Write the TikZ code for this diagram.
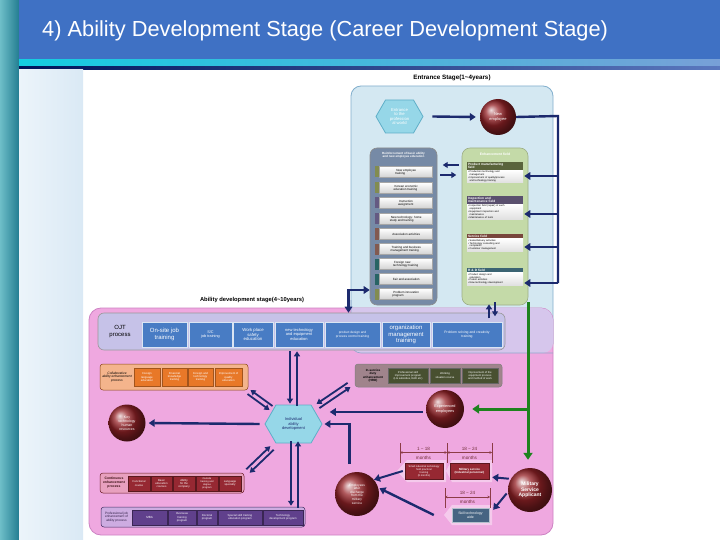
\documentclass[tikz,border=0pt]{standalone}
\usepackage{fontspec}
\setmainfont{Liberation Sans}
\usetikzlibrary{shapes.geometric,shapes.symbols,arrows.meta,calc}
\definecolor{titleblue}{RGB}{63,113,196}
\definecolor{navy}{RGB}{28,42,110}
\definecolor{pinkbg}{RGB}{239,168,224}
\definecolor{pinkbd}{RGB}{205,130,195}
\definecolor{lavov}{RGB}{214,198,236}
\definecolor{lblue}{RGB}{212,232,242}
\definecolor{lbluebd}{RGB}{130,175,205}
\definecolor{ojtpanel}{RGB}{198,194,232}
\definecolor{ojtblue}{RGB}{72,124,196}
\definecolor{gbpanel}{RGB}{118,138,166}
\definecolor{grpanel}{RGB}{196,218,168}
\definecolor{hexcyan}{RGB}{150,215,232}
\definecolor{hexbd}{RGB}{95,175,200}
\definecolor{sphred}{RGB}{150,35,40}
\definecolor{orgbox}{RGB}{232,120,40}
\definecolor{orgpanel}{RGB}{244,180,140}
\definecolor{olivebox}{RGB}{72,80,48}
\definecolor{mauvepanel}{RGB}{160,132,140}
\definecolor{redbox}{RGB}{150,40,50}
\definecolor{redpanel}{RGB}{232,160,190}
\definecolor{purbox}{RGB}{96,64,140}
\definecolor{purpanel}{RGB}{205,172,225}
\definecolor{slatebox}{RGB}{70,100,130}
\definecolor{grline}{RGB}{30,130,30}
\definecolor{dimred}{RGB}{140,60,70}
\definecolor{tabolive}{RGB}{130,140,80}
\definecolor{tabpurple}{RGB}{100,90,130}
\definecolor{tabbrown}{RGB}{130,90,80}
\definecolor{tabteal}{RGB}{40,100,100}
\definecolor{hdolive}{RGB}{90,100,60}
\definecolor{hdpurple}{RGB}{90,80,110}
\definecolor{hdbrown}{RGB}{120,70,60}
\definecolor{hdteal}{RGB}{60,100,115}
\newcommand\myfs[2]{\fontsize{#1}{#2}\selectfont}
\begin{document}
\begin{tikzpicture}[x=1pt,y=-1pt,
 navyln/.style={draw=navy, line width=2.4pt},
 navyarr/.style={draw=navy, line width=2.4pt, -{Triangle[length=6pt,width=7.5pt]}},
 pairarr/.style={draw=navy, line width=1.8pt, -{Triangle[length=5pt,width=6pt]}},
 grnarr/.style={draw=grline, line width=3pt, -{Triangle[length=7pt,width=9pt]}},
 sphere/.style={circle, shading=ball, ball color=sphred, text=white, align=center, inner sep=0pt},
 hexnode/.style={signal, signal to=east and west, signal pointer angle=120, fill=hexcyan, draw=hexbd, line width=0.8pt, align=center, inner sep=0pt},
 ojtbox/.style={rectangle, fill=ojtblue, draw=white!80!ojtblue, text=white, align=center, minimum height=25, inner sep=0.5pt},
 item/.style={rectangle, top color=white, bottom color=black!18, draw=black!35, align=left, minimum width=53, minimum height=11, inner sep=0.5pt, anchor=west, font=\myfs{3}{3.4}},
 hdr/.style={rectangle, text=white, align=left, minimum width=56, inner sep=0.8pt, anchor=north, font=\bfseries\myfs{3.2}{3.5}, text width=54},
 body/.style={rectangle, top color=white, bottom color=black!12, align=left, minimum width=56, inner sep=0.8pt, anchor=north, font=\myfs{2.5}{2.9}, text width=54},
 obox/.style={rectangle, fill=orgbox, draw=orgbox!70!black, text=white, align=center, minimum height=18, inner sep=0.3pt, font=\myfs{2.8}{3.2}},
 dbox/.style={rectangle, fill=olivebox, draw=black!60, text=white, align=center, minimum height=15, inner sep=0.3pt, font=\myfs{2.7}{3.1}},
 rbox/.style={rectangle, fill=redbox, draw=redbox!60!black, text=white, align=center, minimum height=15, inner sep=0.3pt, font=\myfs{2.8}{3.2}},
 pbox/.style={rectangle, fill=purbox, draw=purbox!60!black, text=white, align=center, minimum height=15, inner sep=0.3pt, font=\myfs{3}{3.4}},
 dimln/.style={draw=dimred, line width=0.6pt, {Stealth[length=2.5pt,width=2.5pt]}-{Stealth[length=2.5pt,width=2.5pt]}},
 dimtick/.style={draw=dimred, line width=0.6pt},
 dimtxt/.style={text=dimred!80!black, font=\myfs{4.6}{5}, inner sep=0pt}
]
\useasboundingbox (0,0) rectangle (720,540);
\fill[white] (0,0) rectangle (720,540);
% slide decoration
\shade[left color={rgb,255:red,110;green,190;blue,200}, right color={rgb,255:red,35;green,125;blue,145}] (0,0) rectangle (19,540);
\fill[titleblue] (19,0) rectangle (720,60);
\shade[left color={rgb,255:red,20;green,205;blue,225}, right color={rgb,255:red,120;green,160;blue,215}] (19,60) rectangle (720,67);
\shade[left color={rgb,255:red,0;green,20;blue,90}, right color={rgb,255:red,90;green,120;blue,190}] (19,67) rectangle (720,70);
\shade[left color={rgb,255:red,236;green,244;blue,250}, right color={rgb,255:red,218;green,233;blue,245}] (19,70) rectangle (83,540);
\node[anchor=west, text=white, font=\myfs{21.8}{26}, inner sep=0pt] (title) at (42,31) {4) Ability Development Stage (Career Development Stage)};

% stage backgrounds
\draw[fill=lblue, draw=lbluebd, line width=0.8pt, rounded corners=10] (351,86) rectangle (553,353);
\draw[fill=pinkbg, draw=pinkbd, line width=0.8pt, rounded corners=12] (89,308) rectangle (553,535);
\begin{scope}
 \clip[rounded corners=10] (351,86) rectangle (553,353);
 \fill[lavov, rounded corners=12] (89,308) rectangle (553,535);
\end{scope}
\draw[draw=lbluebd!80!pinkbd, line width=0.6pt, rounded corners=10] (351,300) -- (351,353) -- (553,353);

\node[font=\bfseries\myfs{6.3}{7}] (enttitle) at (452,78) {Entrance Stage(1\textasciitilde4years)};
\node[font=\bfseries\myfs{5.8}{7}] (abltitle) at (252,300) {Ability development stage(4\textasciitilde10years)};

% entrance stage
\node[hexnode, minimum width=47, minimum height=33, text=white, font=\myfs{4.2}{4.6}] (hexA) at (399.5,116.5) {Entrance\\to the\\profession\\al world};
\node[sphere, minimum size=36, font=\myfs{4}{4.5}] (newemp) at (498,117) {New\\employee};
\draw[navyarr] (hexA.east) ++(9,0) -- ([xshift=-4]newemp.west);

\node[rectangle, rounded corners=7, fill=gbpanel, draw=black!45, line width=0.6pt, minimum width=67, minimum height=157] (gbp) at (403.5,226.5) {};
\node[text=white, font=\bfseries\myfs{3}{3.4}, align=center] (gbtitle) at (403.5,155) {Reinforcement of basic ability\\and new employee education};
\foreach \yy/\cc/\tt [count=\i] in {
 172/tabolive/{New employee\\training},
 188/tabolive/{Korean economic\\education training},
 203/tabpurple/{Instruction\\assignment},
 219/tabpurple/{New technology: home\\study and training},
 234/tabbrown/{Association activities},
 249/tabbrown/{Training and business\\management training},
 264/tabteal/{Foreign new\\technology training},
 279/tabteal/{Fair and association},
 294/tabolive/{Problem innovation\\program}} {
 \node[item] (it\i) at (379,\yy) {\hspace{1pt}\tt};
 \fill[\cc] (375,\yy-5.5) rectangle (379,\yy+5.5);
}

\node[rectangle, rounded corners=8, fill=grpanel, draw=grpanel!80!black, line width=0.6pt, minimum width=66, minimum height=157] (greenp) at (495,226.5) {};
\node[text=white, font=\bfseries\myfs{3.4}{4}] (grtitle) at (495,154) {Enhancement field};
\node[hdr, fill=hdolive] (h1) at (495,162) {Product manufacturing\\field};
\node[body] (b1) at (h1.south) {\textbullet\ Production technology and\\\ \ management\\\textbullet\ Improvement of quality/process\\\ \ and technology training};
\node[hdr, fill=hdpurple] (h2) at (495,196) {Inspection and\\maintenance field};
\node[body] (b2) at (h2.south) {\textbullet\ Inspection field (repair) of each\\\ \ equipment\\\textbullet\ Equipment inspection and\\\ \ maintenance\\\textbullet\ Maintenance of tools};
\node[hdr, fill=hdbrown] (h3) at (495,234) {Service field};
\node[body] (b3) at (h3.south) {\textbullet\ Sales/delivery activities\\\textbullet\ Technology consulting and\\\ \ complaints\\\textbullet\ Customer management};
\node[hdr, fill=hdteal] (h4) at (495,268) {R \& D field};
\node[body] (b4) at (h4.south) {\textbullet\ Product design and\\\ \ education\\\textbullet\ Patent activities\\\textbullet\ New technology development};

\draw[pairarr] (greenp.west |- 0,165) ++(-3,0) -- ++(-16,0);
\draw[pairarr] (gbp.east |- 0,175) ++(3,0) -- ++(16,0);

% trunk from new employee
\coordinate (tr) at (558,116);
\draw[navyln] (newemp.east) -- (tr) -- (tr |- 0,283);
\foreach \yy in {176,214,247,283} {
 \draw[navyarr, shorten >=-4pt] (tr |- 0,\yy) -- (greenp.east |- 0,\yy);
}

% OJT panel
\node[rectangle, rounded corners=6, fill=ojtpanel, draw=black!40, line width=0.6pt, minimum width=407, minimum height=37] (ojt) at (301.5,331.5) {};
\node[font=\myfs{6}{7}, align=center] (ojtlbl) at (120,332) {OJT\\process};
\node[ojtbox, minimum width=45, font=\myfs{6}{6.6}] (o1) at (164.5,334.5) {On-site job\\training};
\node[ojtbox, minimum width=43, font=\myfs{3.8}{4.3}] (o2) at (210.5,334.5) {S/C\\job training};
\node[ojtbox, minimum width=40, font=\myfs{4.3}{4.8}] (o3) at (253,334.5) {Work place\\safety\\education};
\node[ojtbox, minimum width=48, font=\myfs{4}{4.5}] (o4) at (299,334.5) {new technology\\and equipment\\education};
\node[ojtbox, minimum width=55, font=\myfs{3.2}{3.7}] (o5) at (352.5,334.5) {product design and\\process control training};
\node[ojtbox, minimum width=48, font=\myfs{6}{6.4}] (o6) at (406,334.5) {organization\\management\\training};
\node[ojtbox, minimum width=70, font=\myfs{3.4}{3.9}] (o7) at (467,334.5) {Problem solving and creativity\\training};

\draw[navyarr, <->, {Triangle[length=6pt,width=7.5pt]}-{Triangle[length=6pt,width=7.5pt]}] (gbp.west |- 0,290) -| ([xshift=47]ojt.north);
\draw[pairarr, line width=1.5pt] (greenp.south -| 489,0) ++(0,13) -- ++(0,-14);
\draw[pairarr, line width=1.5pt] (greenp.south -| 495,0) ++(0,-3) -- ++(0,14);

% collaborative row
\node[rectangle, rounded corners=3, fill=orgpanel, draw=orgbox!60!black, line width=0.5pt, minimum width=148, minimum height=26] (orgp) at (174,377) {};
\node[font=\itshape\myfs{3.3}{3.8}, align=center] (orglbl) at (117,377) {Collaborative\\ability enhancement\\process};
\node[obox, minimum width=26] (c1) at (147,377) {Foreign\\language\\education};
\node[obox, minimum width=25] (c2) at (174.5,377) {Financial\\knowledge\\training};
\node[obox, minimum width=25] (c3) at (200.5,377) {Foreign and\\technology\\training};
\node[obox, minimum width=27] (c4) at (228.5,377) {Improvement of\\quality\\education};

% in-service row
\node[rectangle, rounded corners=3, fill=mauvepanel, draw=black!50, line width=0.5pt, minimum width=147, minimum height=23] (mvp) at (428.5,375.5) {};
\node[font=\bfseries\myfs{3.1}{3.5}, align=center] (mvlbl) at (373,375.5) {In-service\\duty\\enhancement\\(HRD)};
\node[dbox, minimum width=40] (d1) at (408,375.5) {Professional skill\\improvement program\\(LG subsidies, EAD etc)};
\node[dbox, minimum width=30] (d2) at (445,375.5) {Working\\situation course};
\node[dbox, minimum width=36] (d3) at (480,375.5) {Improvement of the\\equipment process\\and method of work};

% centre
\node[hexnode, minimum width=57, minimum height=38, text=navy, font=\myfs{4}{4.6}] (hexB) at (293.5,424) {Individual\\ability\\development};
\node[sphere, minimum size=37, font=\myfs{3.5}{4}] (keytech) at (127,423) {Key\\technology\\human\\resources};
\node[sphere, minimum size=38, font=\myfs{3.8}{4.3}] (expemp) at (445,409) {Experienced\\employees};
\draw[navyarr] (hexB.west) ++(-5,0) -- ([xshift=3]keytech.east);
\draw[navyarr, shorten <=3pt, shorten >=1pt] (expemp.west) ++(0,3) -- ++(-97,0);

% continuous row
\node[rectangle, rounded corners=3, fill=redpanel, draw=redbox!70!black, line width=0.5pt, minimum width=144, minimum height=20] (rdp) at (172,483) {};
\node[font=\bfseries\myfs{3.4}{3.9}, align=center, text=redbox!40!black] (rdlbl) at (114,483) {Continuous\\enhancement\\process};
\node[rbox, minimum width=22] (r1) at (139,483.5) {Functional\\course};
\node[rbox, minimum width=21] (r2) at (161.5,483.5) {Basic\\education\\courses};
\node[rbox, minimum width=22] (r3) at (184,483.5) {Ability\\for the\\company};
\node[rbox, minimum width=22, font=\myfs{2.5}{2.9}] (r4) at (207,483.5) {Outside\\training and\\degree\\program};
\node[rbox, minimum width=22] (r5) at (230,483.5) {Language\\specialty};

% professional row
\node[rectangle, rounded corners=3, fill=purpanel, draw=purbox!70!black, line width=0.5pt, minimum width=204, minimum height=20] (pup) at (203,517) {};
\node[font=\myfs{3.2}{3.6}, align=center, text=purbox!50!black] (pulbl) at (116.5,517) {Professional job\\enhancement of\\ability process};
\node[pbox, minimum width=35] (p1) at (149.5,517.5) {MBA};
\node[pbox, minimum width=28, font=\myfs{2.8}{3.2}] (p2) at (182,517.5) {Overseas\\training\\program};
\node[pbox, minimum width=20, font=\myfs{2.8}{3.2}] (p3) at (207,517.5) {Doctoral\\program};
\node[pbox, minimum width=44, font=\myfs{2.8}{3.2}] (p4) at (240,517.5) {Special skill training\\education program};
\node[pbox, minimum width=40, font=\myfs{2.8}{3.2}] (p5) at (283,517.5) {Technology\\development program};

% pairs around hexagon
\coordinate (nwA1) at (247.5,394); \coordinate (nwA2) at (269.5,410);
\coordinate (nwB1) at (272.5,406); \coordinate (nwB2) at (250.5,390);
\draw[pairarr] (nwA1) -- (nwA2); \draw[pairarr] (nwB1) -- (nwB2);
\coordinate (neA1) at (347.6,382.9); \coordinate (neA2) at (316.6,403.9);
\coordinate (neB1) at (319.4,408.1); \coordinate (neB2) at (350.4,387.1);
\draw[pairarr] (neA1) -- (neA2); \draw[pairarr] (neB1) -- (neB2);
\coordinate (swA1) at (246.3,469.2); \coordinate (swA2) at (270.3,446.2);
\coordinate (swB1) at (273.7,449.8); \coordinate (swB2) at (249.7,472.8);
\draw[pairarr] (swA1) -- (swA2); \draw[pairarr] (swB1) -- (swB2);
\draw[pairarr] (ojt.south -| 290,0) ++(0,1) -- ([yshift=1]hexB.north -| 290,0);
\draw[pairarr] ([yshift=-1]hexB.north -| 297,0) -- ([yshift=-1]ojt.south -| 297,0);
\draw[pairarr] ([yshift=2]hexB.south -| 291,0) -- ([yshift=1]pup.north -| 291,0);
\draw[pairarr] ([yshift=-1]pup.north -| 298,0) -- ([yshift=2]hexB.south -| 298,0);

% military part
\node[sphere, minimum size=44, font=\myfs{3.2}{3.6}] (empafter) at (357,494) {Employees\\after\\discharge\\from the\\military\\service};
\node[sphere, minimum size=44, font=\bfseries\myfs{5}{5.6}] (msa) at (530,490) {Military\\Service\\Applicant};
\draw[navyarr, shorten <=9pt] (empafter.110) |- ([xshift=2]hexB.east);

\fill[white, opacity=0.4] (397,471) -- (407,460) -- (446,460) -- (446,482) -- (407,482) -- cycle;
\fill[white, opacity=0.4] (446,471) -- (452,460) -- (492,460) -- (492,482) -- (452,482) -- cycle;
\fill[white, opacity=0.4] (444,515) -- (452,505) -- (492,505) -- (492,525) -- (452,525) -- cycle;
\node[rbox, minimum width=38, minimum height=16, font=\myfs{2.6}{3}] (rb1) at (424,471) {Small industrial technology\\field practical\\training\\(6 months)};
\node[rbox, minimum width=39, minimum height=16, font=\bfseries\myfs{2.9}{3.3}] (rb2) at (469.5,471) {Military service\\(Industrial personnel)};
\node[rectangle, fill=slatebox, draw=white!60!slatebox, text=white, minimum width=37, minimum height=14, inner sep=0.3pt, align=center, font=\myfs{3.5}{4}] (sb) at (470.5,515) {Skill technology\\aide};

% dimensions
\draw[dimtick] (400,443) -- (400,463);
\draw[dimtick] (447,443) -- (447,463);
\draw[dimtick] (492,443) -- (492,463);
\draw[dimln] (400,452.5) -- (447,452.5);
\draw[dimln] (447,452.5) -- (492,452.5);
\node[dimtxt] (dt1) at (423.5,448.5) {1 \textasciitilde\ 18};
\node[dimtxt] (dm1) at (423.5,457.5) {months};
\node[dimtxt] (dt2) at (469.5,448.5) {18 \textasciitilde\ 24};
\node[dimtxt] (dm2) at (469.5,457.5) {months};
\draw[dimtick] (445,488) -- (445,508);
\draw[dimtick] (490,488) -- (490,508);
\draw[dimln] (445,497) -- (490,497);
\node[dimtxt] (dt3) at (467.5,493) {18 \textasciitilde\ 24};
\node[dimtxt] (dm3) at (467.5,502) {months};

\draw[navyarr, line width=2pt] ([xshift=-2]rb1.west) -- (empafter.40);
\draw[navyarr] ([xshift=-18]sb.west) -- ([xshift=1]empafter.15);
\draw[navyarr, line width=2pt, shorten <=2pt] (msa.150) -- ([xshift=3,yshift=2]rb2.south east);
\draw[navyarr, line width=2pt, shorten <=2pt] (msa.185) -- ([xshift=4,yshift=-2]sb.north east);

% green connectors
\coordinate (gtop) at (528,302);
\draw[grnarr, shorten >=8pt] (gtop) -- (gtop |- msa.north);
\draw[grnarr, shorten >=8pt] (gtop |- expemp.east) -- (expemp.east);
\end{tikzpicture}
\end{document}
